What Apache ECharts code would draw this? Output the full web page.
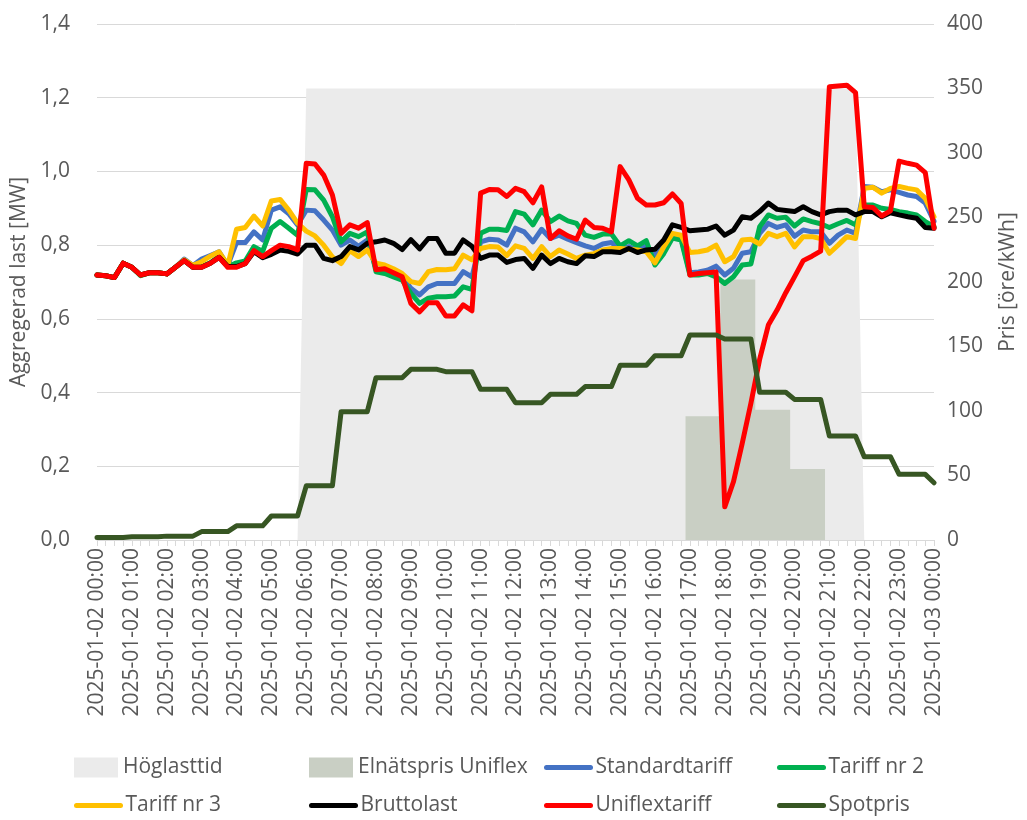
<!DOCTYPE html>
<html>
<head>
<meta charset="utf-8">
<script src="https://cdn.jsdelivr.net/npm/echarts@6/dist/echarts.min.js"></script>
<style>
  html, body { margin: 0; padding: 0; background: #fff; }
  #main { width: 1027px; height: 820px; }
</style>
</head>
<body>
<div id="main"></div>
<script>
// one row per hour, four quarter-hour values each, plus 2025-01-03 00:00 at the end
const standardtariff = [
  0.719, 0.717, 0.712, 0.751,
  0.740, 0.719, 0.725, 0.725,
  0.722, 0.740, 0.762, 0.745,
  0.762, 0.772, 0.782, 0.745,
  0.807, 0.807, 0.836, 0.814,
  0.895, 0.904, 0.885, 0.855,
  0.895, 0.893, 0.868, 0.841,
  0.800, 0.814, 0.797, 0.814,
  0.736, 0.733, 0.725, 0.714,
  0.683, 0.665, 0.687, 0.696,
  0.696, 0.696, 0.728, 0.714,
  0.809, 0.816, 0.814, 0.800,
  0.846, 0.836, 0.809, 0.843,
  0.818, 0.827, 0.816, 0.807,
  0.798, 0.791, 0.803, 0.807,
  0.791, 0.796, 0.785, 0.798,
  0.773, 0.795, 0.827, 0.818,
  0.725, 0.727, 0.732, 0.743,
  0.719, 0.737, 0.778, 0.782,
  0.832, 0.859, 0.848, 0.855,
  0.824, 0.841, 0.836, 0.836,
  0.805, 0.827, 0.841, 0.832,
  0.959, 0.957, 0.945, 0.950,
  0.943, 0.936, 0.932, 0.914,
  0.865
];
const tariff2 = [
  0.719, 0.717, 0.712, 0.751,
  0.740, 0.717, 0.725, 0.725,
  0.722, 0.740, 0.758, 0.740,
  0.742, 0.752, 0.770, 0.742,
  0.752, 0.757, 0.796, 0.783,
  0.846, 0.864, 0.846, 0.827,
  0.951, 0.950, 0.922, 0.877,
  0.809, 0.832, 0.823, 0.836,
  0.728, 0.723, 0.714, 0.705,
  0.669, 0.642, 0.656, 0.660,
  0.660, 0.662, 0.687, 0.680,
  0.832, 0.843, 0.843, 0.840,
  0.891, 0.884, 0.855, 0.895,
  0.864, 0.879, 0.866, 0.859,
  0.827, 0.821, 0.830, 0.830,
  0.798, 0.812, 0.798, 0.812,
  0.746, 0.777, 0.819, 0.814,
  0.719, 0.719, 0.723, 0.714,
  0.696, 0.714, 0.746, 0.749,
  0.850, 0.882, 0.873, 0.876,
  0.852, 0.871, 0.864, 0.858,
  0.848, 0.858, 0.867, 0.855,
  0.909, 0.909, 0.900, 0.897,
  0.891, 0.887, 0.882, 0.864,
  0.850
];
const tariff3 = [
  0.719, 0.717, 0.712, 0.751,
  0.740, 0.719, 0.725, 0.725,
  0.722, 0.740, 0.760, 0.745,
  0.755, 0.770, 0.782, 0.745,
  0.843, 0.848, 0.879, 0.852,
  0.920, 0.924, 0.895, 0.860,
  0.838, 0.825, 0.800, 0.768,
  0.750, 0.785, 0.769, 0.787,
  0.751, 0.746, 0.736, 0.723,
  0.701, 0.696, 0.728, 0.734,
  0.733, 0.736, 0.773, 0.760,
  0.791, 0.796, 0.795, 0.772,
  0.798, 0.791, 0.764, 0.796,
  0.769, 0.787, 0.776, 0.764,
  0.773, 0.777, 0.787, 0.791,
  0.791, 0.789, 0.787, 0.782,
  0.752, 0.795, 0.832, 0.827,
  0.780, 0.782, 0.787, 0.800,
  0.755, 0.769, 0.814, 0.816,
  0.803, 0.832, 0.823, 0.832,
  0.795, 0.823, 0.823, 0.818,
  0.778, 0.800, 0.823, 0.818,
  0.954, 0.957, 0.941, 0.954,
  0.959, 0.954, 0.950, 0.927,
  0.877
];
const bruttolast = [
  0.719, 0.717, 0.712, 0.751,
  0.740, 0.719, 0.725, 0.725,
  0.722, 0.740, 0.758, 0.740,
  0.740, 0.751, 0.767, 0.742,
  0.742, 0.750, 0.782, 0.766,
  0.775, 0.787, 0.783, 0.776,
  0.800, 0.800, 0.764, 0.758,
  0.769, 0.796, 0.787, 0.805,
  0.809, 0.814, 0.805, 0.788,
  0.815, 0.790, 0.818, 0.818,
  0.778, 0.778, 0.814, 0.797,
  0.764, 0.773, 0.773, 0.753,
  0.761, 0.764, 0.737, 0.773,
  0.750, 0.764, 0.755, 0.750,
  0.771, 0.769, 0.782, 0.782,
  0.780, 0.791, 0.780, 0.787,
  0.789, 0.814, 0.855, 0.848,
  0.839, 0.841, 0.843, 0.852,
  0.827, 0.841, 0.877, 0.873,
  0.891, 0.914, 0.897, 0.894,
  0.891, 0.904, 0.891, 0.882,
  0.891, 0.895, 0.895, 0.882,
  0.891, 0.891, 0.877, 0.888,
  0.882, 0.877, 0.873, 0.848,
  0.846
];
const uniflextariff = [
  0.719, 0.717, 0.712, 0.751,
  0.740, 0.719, 0.725, 0.725,
  0.722, 0.740, 0.758, 0.740,
  0.740, 0.751, 0.767, 0.740,
  0.740, 0.750, 0.785, 0.769,
  0.785, 0.800, 0.796, 0.787,
  1.022, 1.020, 0.990, 0.936,
  0.832, 0.855, 0.846, 0.861,
  0.733, 0.736, 0.725, 0.714,
  0.642, 0.619, 0.644, 0.644,
  0.608, 0.608, 0.638, 0.622,
  0.941, 0.951, 0.950, 0.932,
  0.954, 0.945, 0.915, 0.958,
  0.818, 0.839, 0.825, 0.816,
  0.868, 0.848, 0.846, 0.836,
  1.013, 0.977, 0.927, 0.909,
  0.909, 0.915, 0.939, 0.913,
  0.719, 0.723, 0.725, 0.727,
  0.090, 0.158, 0.262, 0.371,
  0.490, 0.583, 0.624, 0.671,
  0.714, 0.758, 0.770, 0.784,
  1.230, 1.232, 1.234, 1.214,
  0.904, 0.902, 0.879, 0.893,
  1.028, 1.022, 1.017, 0.997,
  0.846
];
// öre/kWh, right axis
const spotpris = [
  2, 2, 2, 2,
  2.5, 2.5, 2.5, 2.5,
  3, 3, 3, 3,
  6.5, 6.5, 6.5, 6.5,
  11, 11, 11, 11,
  18.6, 18.6, 18.6, 18.6,
  42, 42, 42, 42,
  99.5, 99.5, 99.5, 99.5,
  125.8, 125.8, 125.8, 125.8,
  132.3, 132.3, 132.3, 132.3,
  130.5, 130.5, 130.5, 130.5,
  116.8, 116.8, 116.8, 116.8,
  106.4, 106.4, 106.4, 106.4,
  112.9, 112.9, 112.9, 112.9,
  118.9, 118.9, 118.9, 118.9,
  135.4, 135.4, 135.4, 135.4,
  142.9, 142.9, 142.9, 142.9,
  158.9, 158.9, 158.9, 158.9,
  155.8, 155.8, 155.8, 155.8,
  114.5, 114.5, 114.5, 114.5,
  109, 109, 109, 109,
  80.6, 80.6, 80.6, 80.6,
  64.6, 64.6, 64.6, 64.6,
  50.9, 50.9, 50.9, 50.9,
  44.4
];
// 17:00-21:00
const elnatsprisUniflex = [
  0, 0, 0, 0,  0, 0, 0, 0,  0, 0, 0, 0,  0, 0, 0, 0,
  0, 0, 0, 0,  0, 0, 0, 0,  0, 0, 0, 0,  0, 0, 0, 0,
  0, 0, 0, 0,  0, 0, 0, 0,  0, 0, 0, 0,  0, 0, 0, 0,
  0, 0, 0, 0,  0, 0, 0, 0,  0, 0, 0, 0,  0, 0, 0, 0,
  0, 0, 0, 0,
  96, 96, 96, 96,  202, 202, 202, 202,  101, 101, 101, 101,  55, 55, 55, 55,
  0, 0, 0, 0,  0, 0, 0, 0,  0, 0, 0, 0,
  0
];
// 06:00-22:00
const hoglasttid = [
  0, 0, 0, 0,  0, 0, 0, 0,  0, 0, 0, 0,  0, 0, 0, 0,  0, 0, 0, 0,  0, 0, 0, 0,
  350, 350, 350, 350,  350, 350, 350, 350,  350, 350, 350, 350,  350, 350, 350, 350,
  350, 350, 350, 350,  350, 350, 350, 350,  350, 350, 350, 350,  350, 350, 350, 350,
  350, 350, 350, 350,  350, 350, 350, 350,  350, 350, 350, 350,  350, 350, 350, 350,
  350, 350, 350, 350,  350, 350, 350, 350,  350, 350, 350, 350,  350, 350, 350, 350,
  0, 0, 0, 0,  0, 0, 0, 0,
  0
];

// quarter-hour categories
const categories = [];
for (let h = 0; h < 24; h++) {
  for (let m = 0; m < 60; m += 15) {
    categories.push('2025-01-02 ' + String(h).padStart(2, '0') + ':' + String(m).padStart(2, '0'));
  }
}
categories.push('2025-01-03 00:00');

const textColor = '#595959';
const font = 'Open Sans';
const fontSize = 21;

const lineSeries = (name, data, color, axis) => ({
  name: name,
  type: 'line',
  data: data,
  yAxisIndex: axis,
  symbol: 'none',
  itemStyle: { color: color },
  lineStyle: { color: color, width: 5, join: 'round', cap: 'round' },
  emphasis: { disabled: true },
  z: 3
});

// legend: 2 rows x 4 columns, one legend component per item
const legendItems = [
  ['Höglasttid', 0, 0], ['Elnätspris Uniflex', 1, 0], ['Standardtariff', 2, 0], ['Tariff nr 2', 3, 0],
  ['Tariff nr 3', 0, 1], ['Bruttolast', 1, 1], ['Uniflextariff', 2, 1], ['Spotpris', 3, 1]
];
const legendLeft = [74, 309, 544, 777];
const legendTop = [757, 795];
const areaNames = ['Höglasttid', 'Elnätspris Uniflex'];

const myChart = echarts.init(document.getElementById('main'));
myChart.setOption({
  animation: false,
  textStyle: { fontFamily: font },
  grid: { left: 97, right: 92, top: 24, bottom: 280 },
  legend: legendItems.map(([name, col, row]) => {
    const isArea = areaNames.includes(name);
    return {
      left: legendLeft[col],
      top: legendTop[row],
      padding: 0,
      itemWidth: 44,
      itemHeight: isArea ? 20 : 5,
      selectedMode: false,
      data: [isArea ? { name: name, icon: 'rect' } : name],
      textStyle: { color: textColor, fontSize: fontSize, fontFamily: font },
      lineStyle: { width: 5 },
      itemStyle: { borderWidth: 0 }
    };
  }),
  xAxis: {
    type: 'category',
    boundaryGap: false,
    data: categories,
    axisLine: { lineStyle: { color: '#d9d9d9', width: 1 } },
    axisTick: { show: true, interval: 0, length: 6, lineStyle: { color: '#d9d9d9' } },
    axisLabel: { interval: 3, rotate: 90, margin: 8, color: textColor, fontSize: fontSize, fontFamily: font },
    splitLine: { show: false }
  },
  yAxis: [
    {
      type: 'value',
      min: 0, max: 1.4, interval: 0.2,
      name: 'Aggregerad last [MW]',
      nameLocation: 'middle',
      nameRotate: 90,
      nameGap: 62,
      nameTextStyle: { color: textColor, fontSize: fontSize, fontFamily: font },
      axisLine: { show: false },
      axisTick: { show: false },
      axisLabel: { margin: 27, color: textColor, fontSize: fontSize, fontFamily: font,
        formatter: v => v.toFixed(1).replace('.', ',') },
      splitLine: { lineStyle: { color: '#d9d9d9', width: 1 } }
    },
    {
      type: 'value',
      min: 0, max: 400, interval: 50,
      name: 'Pris [öre/kWh]',
      nameLocation: 'middle',
      nameRotate: 90,
      nameGap: 64,
      nameTextStyle: { color: textColor, fontSize: fontSize, fontFamily: font },
      axisLine: { show: false },
      axisTick: { show: false },
      axisLabel: { margin: 13, color: textColor, fontSize: fontSize, fontFamily: font },
      splitLine: { show: false }
    }
  ],
  series: [
    {
      name: 'Höglasttid',
      type: 'line',
      data: hoglasttid,
      yAxisIndex: 1,
      symbol: 'none',
      itemStyle: { color: '#ebebeb' },
      lineStyle: { width: 0 },
      areaStyle: { color: '#ebebeb', opacity: 1 },
      emphasis: { disabled: true },
      z: 1
    },
    {
      name: 'Elnätspris Uniflex',
      type: 'line',
      step: 'middle',
      data: elnatsprisUniflex,
      yAxisIndex: 1,
      symbol: 'none',
      itemStyle: { color: '#c9cfc4' },
      lineStyle: { width: 0 },
      areaStyle: { color: '#c9cfc4', opacity: 1 },
      emphasis: { disabled: true },
      z: 2
    },
    lineSeries('Standardtariff', standardtariff, '#4472c4', 0),
    lineSeries('Tariff nr 2', tariff2, '#00b050', 0),
    lineSeries('Tariff nr 3', tariff3, '#ffc000', 0),
    lineSeries('Bruttolast', bruttolast, '#000000', 0),
    lineSeries('Uniflextariff', uniflextariff, '#ff0000', 0),
    lineSeries('Spotpris', spotpris, '#375623', 1)
  ]
});
</script>
</body>
</html>
